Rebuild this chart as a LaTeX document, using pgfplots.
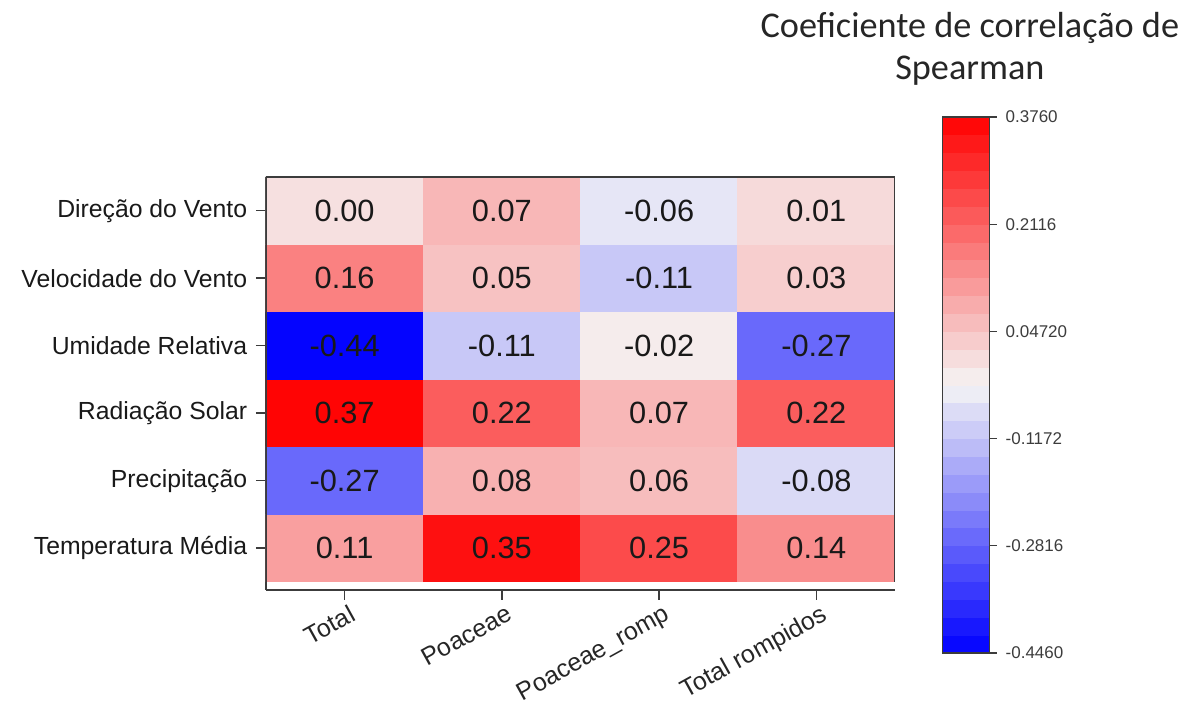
\documentclass[border=0pt]{standalone}
\usepackage{pgfplots}
\pgfplotsset{compat=1.18}
\usepackage{pgfplotstable}
\usepackage{fontspec}
\setmainfont{Liberation Sans}
\newfontfamily\titlefont{Carlito}
\definecolor{axgray}{RGB}{60,60,60}

\pgfplotstableread{
x y c lab
0 0 0.11 0.11
1 0 0.35 0.35
2 0 0.25 0.25
3 0 0.14 0.14
0 1 -0.27 -0.27
1 1 0.08 0.08
2 1 0.06 0.06
3 1 -0.08 -0.08
0 2 0.37 0.37
1 2 0.22 0.22
2 2 0.07 0.07
3 2 0.22 0.22
0 3 -0.44 -0.44
1 3 -0.11 -0.11
2 3 -0.02 -0.02
3 3 -0.27 -0.27
0 4 0.16 0.16
1 4 0.05 0.05
2 4 -0.11 -0.11
3 4 0.03 0.03
0 5 0.00 0.00
1 5 0.07 0.07
2 5 -0.06 -0.06
3 5 0.01 0.01
}\corr

\begin{document}
\begin{tikzpicture}
\begin{axis}[
  scale only axis, width=251.6pt, height=165.2pt,
  xmin=-0.5, xmax=3.5, ymin=-0.62, ymax=5.5,
  axis x line*=bottom, axis y line*=left,
  axis line style={axgray, line width=0.6pt, -},
  xtick={0,1,2,3},
  xticklabels={Total,Poaceae,Poaceae\_romp,Total rompidos},
  ytick={0,1,2,3,4,5},
  yticklabels={Temperatura Média,Precipitação,Radiação Solar,Umidade Relativa,Velocidade do Vento,Direção do Vento},
  tick align=outside, major tick length=4pt,
  tick style={axgray, line width=0.6pt},
  xticklabel style={rotate=29, anchor=north east, xshift=4pt, yshift=1.5pt, font=\fontsize{10}{12}\selectfont, text=black!85},
  yticklabel style={font=\fontsize{9.9}{12}\selectfont, text=black!90},
  colormap={bwr}{rgb255=(0,0,255) rgb255=(245,245,245) rgb255=(255,0,0)},
  point meta min=-0.446, point meta max=0.376,
  colorbar, colorbar sampled,
  colorbar style={
    samples=31,
    at={(parent axis.north east)}, anchor=north west,
    xshift=10.4pt, yshift=24pt,
    width=18.8pt, height=214.4pt,
    ytick={-0.446,-0.2816,-0.1172,0.0472,0.2116,0.376},
    yticklabels={-0.4460,-0.2816,-0.1172,0.04720,0.2116,0.3760},
    yticklabel style={font=\fontsize{6.8}{8}\selectfont, text=axgray},
    tick align=outside, ytick pos=right, major tick length=3pt,
    tick style={axgray, line width=0.5pt},
    axis line style={axgray, line width=0.5pt},
  },
]
\addplot[matrix plot*, mesh/cols=4, point meta=explicit] table[x=x, y=y, meta=c]{\corr};
\addplot[only marks, mark=none, nodes near coords, nodes near coords align=center,
  point meta=explicit symbolic,
  every node near coord/.append style={font=\fontsize{12.3}{14}\selectfont, text=black!90, anchor=center}]
  table[x=x, y=y, meta=lab]{\corr};
\draw[axgray, line width=0.6pt] (axis cs:-0.5,-0.5) -- (axis cs:-0.5,5.5) -- (axis cs:3.5,5.5) -- (axis cs:3.5,-0.5);
\coordinate (ttl) at (rel axis cs:1.119,1.310);
\coordinate (bbll) at (rel axis cs:-0.4229,-0.2785);
\coordinate (bbur) at (rel axis cs:1.4738,1.4286);
\end{axis}
\node[font=\titlefont\fontsize{14.5}{17}\selectfont, align=center, text=black!85] at (ttl) {Coeficiente de correlação de\\Spearman};
\pgfresetboundingbox
\path[use as bounding box] (bbll) rectangle (bbur);
\end{tikzpicture}
\end{document}
